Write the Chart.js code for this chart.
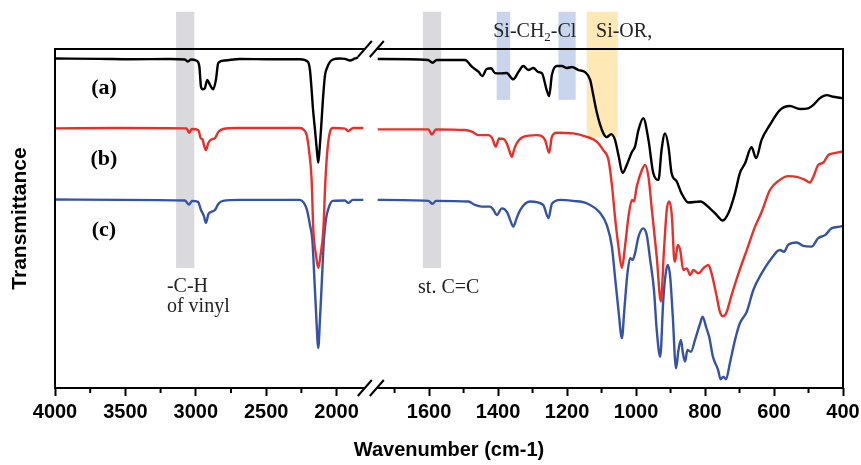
<!DOCTYPE html>
<html>
<head>
<meta charset="utf-8">
<script src="https://cdn.jsdelivr.net/npm/chart.js@4.4.1/dist/chart.umd.min.js"></script>
<style>
  html, body { margin: 0; padding: 0; background: #fff; }
  #wrap { position: relative; width: 861px; height: 465px; }
</style>
</head>
<body>
<div id="wrap"><canvas id="ftirChart" width="861" height="465"></canvas></div>
<script>
// ---- spectra (wavenumber cm-1 / transmittance, offset units)
// null marks the axis break
const wnA = [4000, 3680, 3467, 3183, 3077, 3055, 3034, 2994, 2975, 2963, 2949, 2935, 2918, 2899, 2876, 2857, 2840, 2793, 2686, 2473, 2260, 2203, 2189, 2177, 2168, 2153, 2140, 2130, 2121, 2106, 2097, 2082, 2068, 2047, 2026, 1976, 1940, 1905, 1869, 1848, 1790, 1749, 1603, 1590, 1578, 1496, 1476, 1457, 1446, 1433, 1420, 1409, 1394, 1375, 1356, 1341, 1327, 1312, 1298, 1283, 1273, 1259, 1252, 1244, 1230, 1215, 1201, 1186, 1167, 1148, 1133, 1124, 1114, 1104, 1095, 1085, 1072, 1061, 1051, 1039, 1027, 1012, 1003, 993, 979, 964, 950, 935, 926, 916, 906, 897, 882, 868, 848, 814, 786, 766, 749, 732, 713, 699, 684, 665, 652, 636, 612, 583, 554, 525, 501, 486, 467, 447, 428, 404, 400];
const tA = [97.2, 97.1, 96.96, 97.05, 96.9, 96.3, 96.9, 96.55, 95.0, 88.9, 88.1, 88.5, 90.9, 89.4, 88.1, 90.9, 95.9, 96.6, 97.05, 96.96, 96.96, 96.2, 93.8, 87.9, 82.6, 76.1, 70.2, 66.5, 70.2, 79.1, 85.0, 92.3, 94.4, 96.2, 96.9, 97.2, 97.1, 96.6, 97.2, 97.5, null, 97.05, 96.76, 95.96, 96.76, 96.76, 94.78, 93.3, 92.0, 94.1, 94.3, 92.9, 92.8, 92.9, 91.06, 93.2, 95.0, 93.8, 94.4, 93.2, 92.9, 87.9, 86.1, 92.3, 95.0, 95.0, 94.4, 94.7, 93.8, 93.2, 90.9, 86.4, 81.4, 77.6, 75.2, 74.0, 74.9, 73.2, 68.7, 63.4, 65.8, 69.6, 71.2, 76.1, 79.6, 73.2, 63.4, 61.4, 70.2, 75.1, 71.2, 63.4, 60.9, 57.4, 54.7, 55.0, 53.0, 51.0, 49.4, 51.6, 57.5, 63.4, 66.3, 71.0, 67.8, 73.2, 77.6, 82.0, 83.2, 82.3, 82.5, 83.5, 85.5, 86.4, 85.9, 85.5, 85.4];

const wnB = [4000, 3538, 3065, 3048, 3029, 2982, 2965, 2951, 2942, 2928, 2911, 2894, 2864, 2840, 2805, 2710, 2260, 2232, 2212, 2196, 2177, 2165, 2146, 2130, 2114, 2094, 2079, 2065, 2047, 2026, 1940, 1917, 1881, 1810, 1790, 1749, 1602, 1592, 1580, 1496, 1476, 1457, 1428, 1417, 1407, 1397, 1385, 1375, 1368, 1360, 1354, 1346, 1327, 1288, 1264, 1252, 1244, 1230, 1182, 1143, 1114, 1095, 1080, 1070, 1061, 1051, 1041, 1032, 1022, 1012, 1006, 998, 983, 974, 964, 954, 940, 928, 919, 911, 904, 896, 890, 887, 879, 872, 863, 853, 843, 834, 819, 805, 790, 781, 766, 757, 749, 739, 723, 703, 679, 655, 636, 612, 583, 559, 534, 510, 496, 486, 472, 457, 443, 428, 404, 400];
const tB = [76.6, 76.7, 76.6, 75.3, 76.4, 76.1, 73.7, 73.2, 71.7, 70.2, 72.3, 73.2, 73.7, 75.5, 76.4, 76.7, 76.7, 76.1, 74.6, 70.2, 61.4, 46.6, 39.2, 35.4, 39.2, 46.6, 61.4, 70.2, 75.5, 76.7, 76.5, 75.8, 76.7, 76.7, null, 76.3, 76.3, 74.8, 76.3, 76.1, 75.6, 74.6, 74.6, 73.7, 71.2, 73.6, 73.5, 72.2, 70.2, 68.2, 70.2, 72.2, 74.1, 74.6, 73.2, 69.4, 74.1, 75.3, 75.1, 74.1, 72.7, 70.2, 67.3, 59.9, 50.5, 41.7, 35.4, 41.7, 50.5, 55.5, 55.0, 59.4, 64.3, 65.8, 62.3, 52.5, 38.7, 25.5, 40.7, 52.5, 55.0, 50.5, 38.7, 37.3, 42.2, 40.7, 34.8, 35.3, 33.3, 34.8, 33.8, 35.3, 36.3, 33.8, 26.9, 22.5, 21.2, 22.0, 27.4, 33.8, 40.7, 47.6, 51.9, 58.4, 61.4, 62.5, 62.3, 61.4, 60.6, 62.3, 65.8, 66.5, 68.7, 69.2, 69.7, 69.8];

const wnC = [4000, 3538, 3077, 3048, 3027, 2984, 2963, 2942, 2928, 2910, 2892, 2864, 2840, 2807, 2686, 2260, 2232, 2210, 2189, 2172, 2157, 2143, 2130, 2118, 2104, 2090, 2076, 2054, 2026, 1940, 1917, 1884, 1810, 1790, 1749, 1602, 1590, 1580, 1486, 1467, 1447, 1423, 1413, 1404, 1389, 1374, 1365, 1356, 1346, 1336, 1307, 1269, 1254, 1244, 1220, 1182, 1143, 1104, 1085, 1070, 1061, 1051, 1041, 1034, 1025, 1017, 1010, 1003, 993, 979, 969, 959, 948, 940, 930, 921, 914, 908, 901, 894, 884, 877, 870, 864, 858, 851, 841, 829, 814, 807, 796, 788, 777, 762, 755, 747, 739, 728, 713, 699, 679, 660, 636, 607, 583, 571, 559, 534, 515, 491, 472, 452, 433, 409, 400];
const tC = [55.6, 55.5, 55.3, 54.1, 55.2, 54.9, 52.5, 50.7, 48.7, 51.3, 51.9, 52.5, 54.3, 55.2, 55.5, 55.5, 54.6, 52.5, 48.1, 43.7, 31.9, 20.1, 11.8, 20.1, 31.9, 43.7, 49.6, 53.4, 55.2, 55.3, 54.6, 55.5, 55.5, null, 55.5, 55.2, 54.3, 55.2, 55.0, 54.0, 53.5, 53.5, 52.5, 51.0, 53.0, 51.9, 49.6, 47.6, 50.1, 52.5, 55.0, 54.0, 50.1, 54.3, 55.5, 55.2, 54.5, 51.6, 48.1, 41.7, 32.8, 23.0, 14.7, 23.0, 33.8, 38.3, 37.8, 39.7, 44.6, 47.1, 45.1, 37.8, 28.9, 17.1, 9.2, 26.0, 33.8, 36.3, 32.8, 22.0, 5.8, 11.2, 14.2, 10.2, 7.8, 11.2, 10.7, 14.2, 19.1, 21.0, 17.7, 15.1, 9.2, 5.3, 2.6, 3.3, 2.6, 7.3, 14.2, 19.1, 22.5, 28.9, 33.8, 38.3, 40.7, 40.2, 42.2, 42.9, 41.9, 41.7, 44.2, 45.1, 47.1, 47.6, 47.8];

const majorTicks = [4000, 3500, 3000, 2500, 2000, 1600, 1400, 1200, 1000, 800, 600, 400];
const minorTicks = [3750, 3250, 2750, 2250, 1700, 1500, 1300, 1100, 900, 700, 500];

// highlighted regions (wavenumber range, top/bottom in transmittance units)
const bands = [
    { from: 3140, to: 3010, top: 111, bottom: 35.4, color: '#d9d9de' },
    { from: 1618, to: 1565, top: 111, bottom: 35.4, color: '#d9d9de' },
    { from: 1404, to: 1365, top: 111, bottom: 85,   color: '#c8d5ec' },
    { from: 1225, to: 1175, top: 111, bottom: 85,   color: '#c8d5ec' },
    { from: 1143, to: 1053, top: 111, bottom: 74,   color: '#fde8b6' }
];

const notes = [
    { text: '(a)', wn: 3652, t: 88.5, bold: true, align: 'center' },
    { text: '(b)', wn: 3652, t: 67.6, bold: true, align: 'center' },
    { text: '(c)', wn: 3652, t: 46.6, bold: true, align: 'center' },
    { text: '-C-H', wn: 3205, t: 28.3 },
    { text: 'of vinyl', wn: 3205, t: 22.4 },
    { text: 'st. C=C', wn: 1632, t: 28.0 },
    { text: 'Si-CH|2|-Cl', wn: 1414, t: 103.5 },
    { text: 'Si-OR,', wn: 1116, t: 103.5 }
];

// ---- broken wavenumber axis: 4000-1850 on the left, 1725-400 on the right
const LEFT_FROM = 4000, LEFT_TO = 1850, LEFT_FRAC = 0.3841;
const RIGHT_FROM = 1725, RIGHT_TO = 400, RIGHT_FRAC = 0.42;
const SPLIT = 1790;

class BrokenAxis extends Chart.LinearScale {
    getPixelForValue(v) {
        if (v === null || v === undefined || isNaN(v)) return NaN;
        let d;
        if (v >= SPLIT) {
            d = (LEFT_FROM - v) / (LEFT_FROM - LEFT_TO) * LEFT_FRAC;
        } else {
            d = 1 - (v - RIGHT_TO) / (RIGHT_FROM - RIGHT_TO) * (1 - RIGHT_FRAC);
        }
        return this.getPixelForDecimal(d);
    }
    getValueForPixel(p) {
        const d = this.getDecimalForPixel(p);
        if (d <= LEFT_FRAC) return LEFT_FROM - d / LEFT_FRAC * (LEFT_FROM - LEFT_TO);
        return RIGHT_TO + (1 - d) / (1 - RIGHT_FRAC) * (RIGHT_FROM - RIGHT_TO);
    }
}
BrokenAxis.id = 'broken';
BrokenAxis.defaults = Chart.LinearScale.defaults;
Chart.register(BrokenAxis);

function toPoints(wn, t) {
    const n = Math.min(wn.length, t.length);
    const pts = [];
    for (let i = 0; i < n; i++) pts.push({ x: wn[i], y: t[i] });
    return pts;
}

const bandsPlugin = {
    id: 'bands',
    beforeDatasetsDraw(chart) {
        const { ctx, scales: { x, y } } = chart;
        ctx.save();
        bands.forEach(b => {
            const x1 = x.getPixelForValue(b.from), x2 = x.getPixelForValue(b.to);
            const y1 = y.getPixelForValue(b.top), y2 = y.getPixelForValue(b.bottom);
            ctx.fillStyle = b.color;
            ctx.fillRect(x1, y1, x2 - x1, y2 - y1);
        });
        ctx.restore();
    }
};

const framePlugin = {
    id: 'frame',
    afterDatasetsDraw(chart) {
        const { ctx, chartArea: a, scales: { x } } = chart;
        const c = (x.getPixelForValue(LEFT_TO) + x.getPixelForValue(RIGHT_FROM)) / 2;
        const s1 = c - 7, s2 = c + 5;
        ctx.save();
        ctx.strokeStyle = '#000';
        ctx.lineWidth = 2;
        ctx.lineCap = 'butt';
        ctx.beginPath();
        ctx.moveTo(a.left, a.top - 1); ctx.lineTo(a.left, a.bottom + 1);
        ctx.moveTo(a.right, a.top - 1); ctx.lineTo(a.right, a.bottom + 1);
        [a.top, a.bottom].forEach(yy => {
            ctx.moveTo(a.left, yy); ctx.lineTo(s1, yy);
            ctx.moveTo(s2, yy); ctx.lineTo(a.right, yy);
            [s1, s2].forEach(sx => {
                ctx.moveTo(sx - 7, yy + 8);
                ctx.lineTo(sx + 7, yy - 8);
            });
        });
        // minor ticks
        minorTicks.forEach(v => {
            const px = x.getPixelForValue(v);
            ctx.moveTo(px, a.bottom); ctx.lineTo(px, a.bottom + 5);
        });
        ctx.stroke();
        ctx.restore();
    }
};

const notesPlugin = {
    id: 'notes',
    afterDraw(chart) {
        const { ctx, scales: { x, y } } = chart;
        ctx.save();
        ctx.fillStyle = '#222';
        ctx.textBaseline = 'alphabetic';
        notes.forEach(n => {
            const px = x.getPixelForValue(n.wn), py = y.getPixelForValue(n.t);
            if (n.bold) {
                ctx.font = 'bold 22px "Liberation Serif", serif';
                ctx.textAlign = n.align || 'left';
                ctx.textBaseline = 'middle';
                ctx.fillStyle = '#000';
                ctx.fillText(n.text, px, py);
                ctx.textBaseline = 'alphabetic';
                ctx.fillStyle = '#222';
                return;
            }
            ctx.textAlign = 'left';
            const parts = n.text.split('|');
            let cx = px;
            parts.forEach((p, i) => {
                const sub = i % 2 === 1;
                ctx.font = (sub ? '13px' : '20px') + ' "Liberation Serif", serif';
                ctx.fillText(p, cx, sub ? py + 4 : py);
                cx += ctx.measureText(p).width;
            });
        });
        ctx.restore();
    }
};

const ctx = document.getElementById('ftirChart');

new Chart(ctx, {
    type: 'line',
    data: {
        datasets: [
            { label: '(a)', data: toPoints(wnA, tA), borderColor: '#000000' },
            { label: '(b)', data: toPoints(wnB, tB), borderColor: '#e8302b' },
            { label: '(c)', data: toPoints(wnC, tC), borderColor: '#3553a5' }
        ]
    },
    options: {
        responsive: false,
        animation: false,
        spanGaps: false,
        layout: { padding: { top: 49, right: 18, left: 0, bottom: 0 } },
        elements: {
            line: { borderWidth: 2.4, cubicInterpolationMode: 'monotone', fill: false },
            point: { radius: 0 }
        },
        plugins: {
            legend: { display: false },
            tooltip: { enabled: false }
        },
        scales: {
            x: {
                type: 'broken',
                min: 400,
                max: 4000,
                afterBuildTicks: s => { s.ticks = majorTicks.map(v => ({ value: v })); },
                afterFit: s => { s.height = 77; s.paddingLeft = 0; s.paddingRight = 0; },
                ticks: {
                    autoSkip: false,
                    maxRotation: 0,
                    padding: 4,
                    color: '#000',
                    font: { family: '"Liberation Sans", Arial, sans-serif', size: 20, weight: 'bold' },
                    callback: v => String(v)
                },
                grid: { drawOnChartArea: false, tickLength: 8, tickWidth: 2, tickColor: '#000' },
                border: { display: false },
                title: {
                    display: true,
                    text: 'Wavenumber (cm-1)',
                    color: '#000',
                    font: { family: '"Liberation Sans", Arial, sans-serif', size: 20, weight: 'bold' },
                    padding: { top: 0, bottom: 3 }
                }
            },
            y: {
                min: 0,
                max: 100,
                afterFit: s => { s.width = 55; },
                ticks: { display: false },
                grid: { display: false },
                border: { display: false },
                title: {
                    display: true,
                    text: 'Transmittance',
                    color: '#000',
                    font: { family: '"Liberation Sans", Arial, sans-serif', size: 21, weight: 'bold' },
                    padding: { top: 8, bottom: 0 }
                }
            }
        }
    },
    plugins: [bandsPlugin, framePlugin, notesPlugin]
});
</script>
</body>
</html>
